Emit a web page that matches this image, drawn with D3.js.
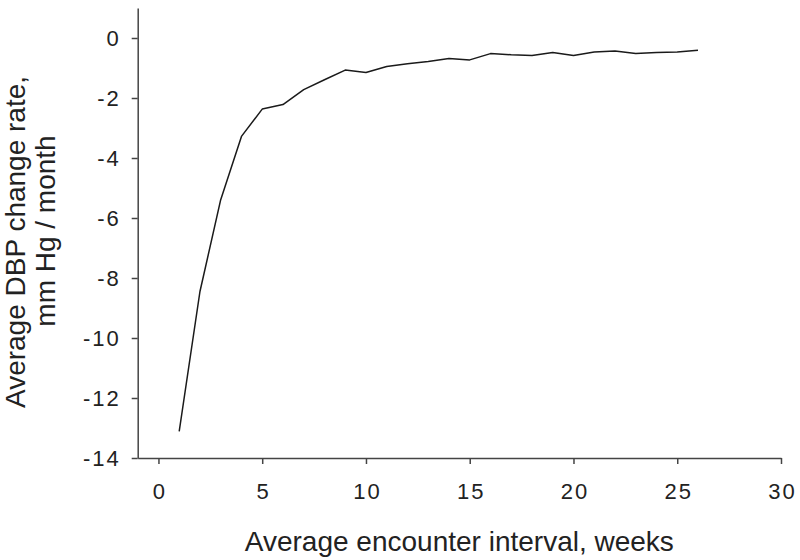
<!DOCTYPE html>
<html>
<head>
<meta charset="utf-8">
<script src="https://cdn.jsdelivr.net/npm/d3@7"></script>
<style>
  body { margin: 0; background: #fff; }
  svg { display: block; font-family: 'Liberation Sans', Arial, sans-serif; }
  .axis text { font-size: 22px; fill: #222; letter-spacing: 2px; }
  .axis path, .axis line { stroke: #444; stroke-width: 1.5; }
  .title { font-size: 28px; fill: #222; }
</style>
</head>
<body>
<div id="chart"></div>
<script>
// encounter interval (weeks) and average DBP change rate (mm Hg / month)
const weeks = [1, 2, 3, 4, 5, 6, 7, 8, 9, 10, 11, 12, 13, 14, 15, 16, 17, 18, 19, 20, 21, 22, 23, 24, 25, 26];
const dbpRate = [-13.11, -8.45, -5.39, -3.28, -2.37, -2.22, -1.72, -1.39, -1.07, -1.15, -0.95, -0.86, -0.78,
  -0.68, -0.73, -0.52, -0.56, -0.58, -0.48, -0.58, -0.47, -0.43, -0.52, -0.48, -0.47, -0.41];
const xTicks = [0, 5, 10, 15, 20, 25, 30];
const yTicks = [0, -2, -4, -6, -8, -10, -12, -14];

const width = 800;
const height = 560;

const data = weeks.map((w, i) => ({ week: w, rate: dbpRate[i] }));

const svg = d3
  .select('#chart')
  .append('svg')
  .attr('width', width)
  .attr('height', height);

const xScale = d3.scaleLinear().domain([-1, 30]).range([137.7, 781]);
const yScale = d3.scaleLinear().domain([-14, 1]).range([458, 8]);

// plain hyphen for the minus sign, like the original
const fmt = (d) => String(d);

// x axis
const xAxisG = svg
  .append('g')
  .attr('class', 'axis')
  .attr('transform', `translate(0, ${yScale(-14)})`)
  .call(d3.axisBottom(xScale).tickValues(xTicks).tickFormat(fmt).tickSize(6).tickSizeOuter(0).tickPadding(19));
// letter-spacing adds space after the last glyph, recentre
xAxisG.selectAll('.tick text').attr('dx', 1);

// y axis
svg
  .append('g')
  .attr('class', 'axis')
  .attr('transform', `translate(${xScale(-1)}, 0)`)
  .call(d3.axisLeft(yScale).tickValues(yTicks).tickFormat(fmt).tickSize(6).tickSizeOuter(0).tickPadding(11));

// the curve
const line = d3
  .line()
  .x((d) => xScale(d.week))
  .y((d) => yScale(d.rate));

svg
  .append('path')
  .datum(data)
  .attr('fill', 'none')
  .attr('stroke', '#1a1a1a')
  .attr('stroke-width', 1.5)
  .attr('stroke-linejoin', 'round')
  .attr('d', line);

// axis titles
svg
  .append('text')
  .attr('class', 'title')
  .attr('x', (xScale(-1) + xScale(30)) / 2)
  .attr('y', 551)
  .attr('text-anchor', 'middle')
  .text('Average encounter interval, weeks');

const yTitle = svg
  .append('text')
  .attr('class', 'title')
  .attr('transform', 'translate(0, 242) rotate(-90)')
  .attr('text-anchor', 'middle');

yTitle.append('tspan').attr('x', 0).attr('y', 25).text('Average DBP change rate,');
yTitle.append('tspan').attr('x', 11).attr('y', 55).text('mm Hg / month');
</script>
</body>
</html>
